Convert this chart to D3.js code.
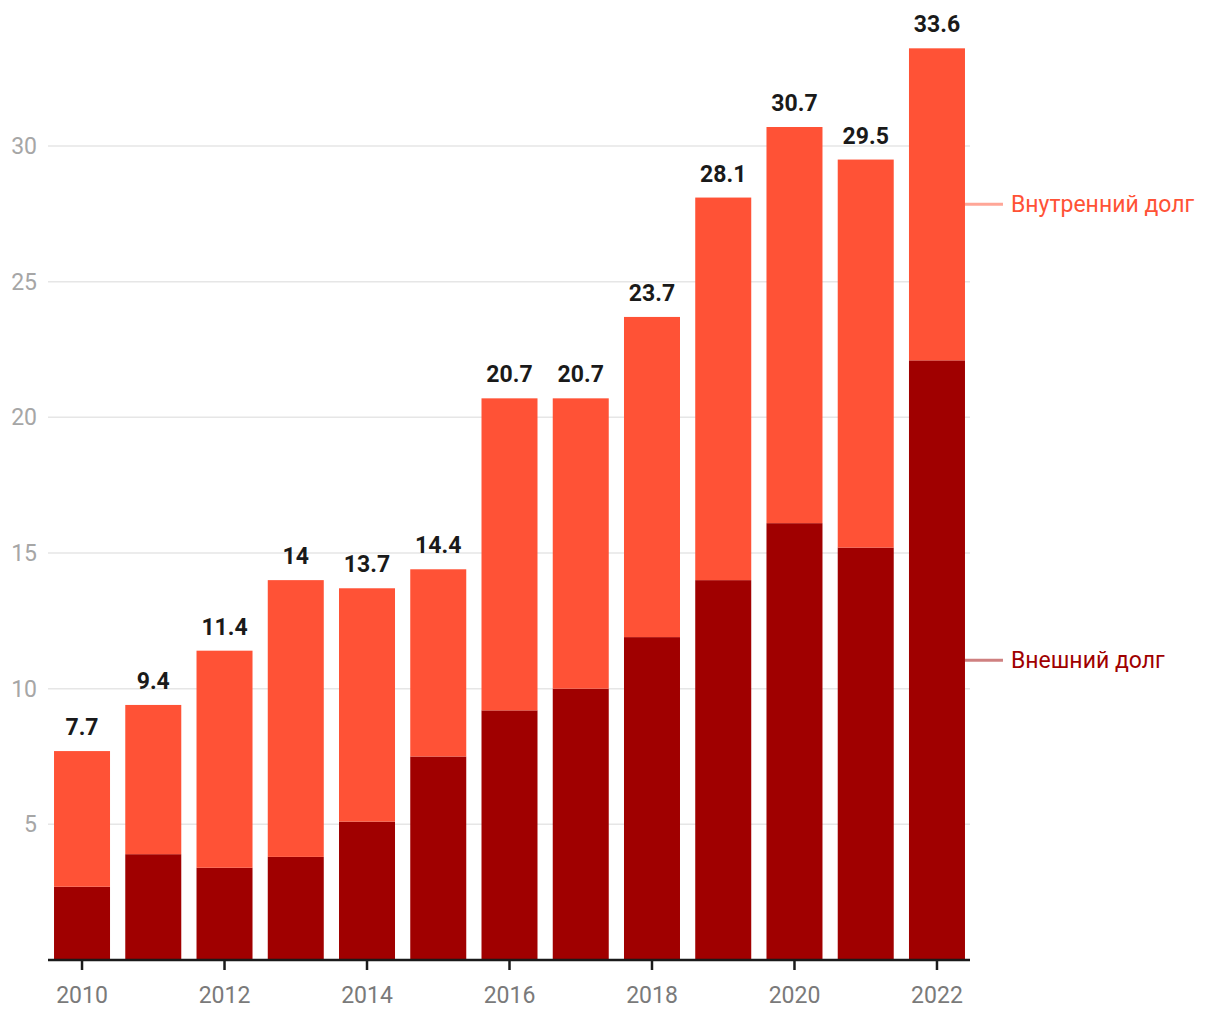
<!DOCTYPE html>
<html><head><meta charset="utf-8">
<script src="https://cdn.jsdelivr.net/npm/d3@7"></script>
<style>body{margin:0;background:#fff;} text{font-family:Roboto,"Noto Sans",sans-serif;}</style>
</head><body>
<svg id="chart" width="1220" height="1020"></svg>
<script>
const years = [2010,2011,2012,2013,2014,2015,2016,2017,2018,2019,2020,2021,2022];
const external = [2.7,3.9,3.4,3.8,5.1,7.5,9.2,10.0,11.9,14.0,16.1,15.2,22.1];
const totals = [7.7,9.4,11.4,14,13.7,14.4,20.7,20.7,23.7,28.1,30.7,29.5,33.6];
const internal = totals.map((t,i)=>+(t-external[i]).toFixed(1));
const yTicks = [5,10,15,20,25,30];
const xTickYears = [2010,2012,2014,2016,2018,2020,2022];
const seriesNames = ["Внешний долг","Внутренний долг"];
const colors = ["#a00000","#ff5236"];
const legendLineColors = ["#cf8080","#ffa697"];

const FS = 23;
const svg = d3.select("#chart");
const x = d3.scaleBand().domain(years).range([46.4,972.6]).paddingInner(0.214).paddingOuter(0.107);
const y = d3.scaleLinear().domain([0,30]).range([960,146]);

// grid
svg.append("g").selectAll("line").data(yTicks).join("line")
  .attr("x1",48).attr("x2",970).attr("y1",d=>y(d)).attr("y2",d=>y(d))
  .attr("stroke","#e6e6e6").attr("stroke-width",1.5);
svg.append("g").selectAll("text").data(yTicks).join("text")
  .attr("x",37).attr("y",d=>y(d)).attr("dy","0.35em").attr("text-anchor","end")
  .attr("font-size",FS).attr("fill","#a6a6a6").text(d=>d);

const table = years.map((yr,i)=>({year:yr, ext:external[i], int:internal[i], total:totals[i]}));
const stack = d3.stack().keys(["ext","int"])(table);
svg.append("g").selectAll("g").data(stack).join("g").attr("fill",(d,i)=>colors[i])
  .selectAll("rect").data(d=>d).join("rect")
  .attr("x",d=>x(d.data.year)).attr("width",x.bandwidth())
  .attr("y",d=>y(d[1])).attr("height",d=>y(d[0])-y(d[1]));

// totals
svg.append("g").selectAll("text").data(table).join("text")
  .attr("x",d=>x(d.year)+x.bandwidth()/2).attr("y",d=>y(d.total)-16)
  .attr("text-anchor","middle").attr("font-size",FS).attr("font-weight","bold").attr("fill","#1a1a1a")
  .text(d=>d.total);

// x axis
const xAxis = d3.axisBottom(x).tickValues(xTickYears).tickSize(10).tickSizeOuter(0).tickPadding(17);
const gx = svg.append("g").attr("transform","translate(0,960)").call(xAxis);
gx.select(".domain").attr("stroke","#1a1a1a").attr("stroke-width",2.5).attr("d","M48,0H970");
gx.selectAll(".tick line").attr("stroke","#1a1a1a").attr("stroke-width",2.5);
gx.selectAll(".tick text").attr("font-size",FS).attr("fill","#7a7a7a").attr("font-family","Roboto,sans-serif");

// legend labels at last bar
const last = stack.map(s=>s[s.length-1]);
const lx = x(years[years.length-1]) + x.bandwidth();
last.forEach((d,i)=>{
  const my = (y(d[0])+y(d[1]))/2;
  svg.append("line").attr("x1",lx).attr("x2",lx+38).attr("y1",my).attr("y2",my)
    .attr("stroke",legendLineColors[i]).attr("stroke-width",3);
  svg.append("text").attr("x",lx+46).attr("y",my).attr("dy","0.35em")
    .attr("font-size",FS).attr("fill",colors[i]).text(seriesNames[i]);
});
</script>
</body></html>
